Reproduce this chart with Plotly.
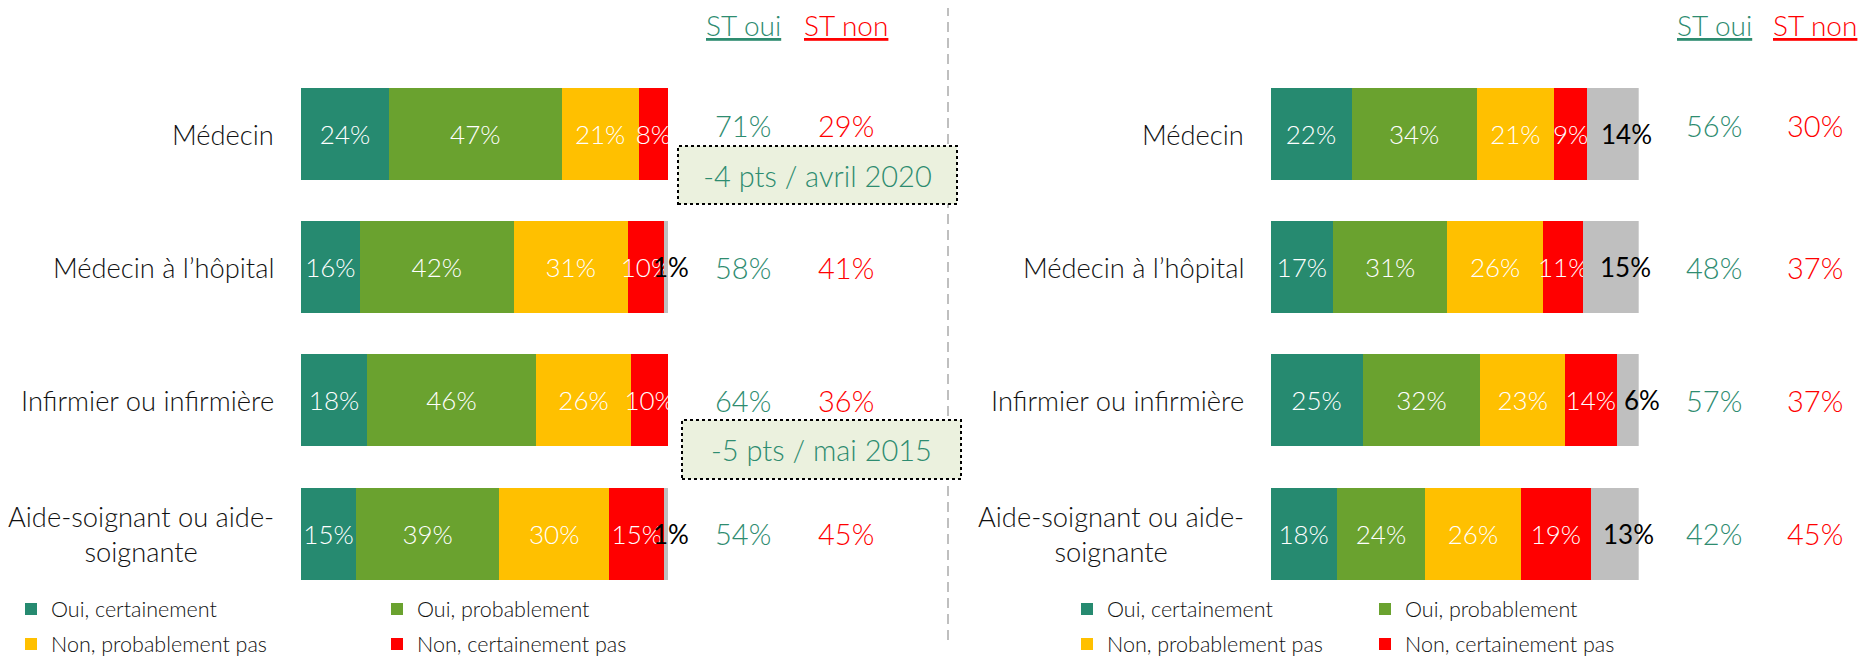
import plotly.graph_objects as go

# ---------------- data ----------------
categories = ["Médecin", "Médecin à l’hôpital", "Infirmier ou infirmière",
              "Aide-soignant ou aide-<br>soignante"]
series_names = ["Oui, certainement", "Oui, probablement",
                "Non, probablement pas", "Non, certainement pas"]

left_oui_cert = [24, 16, 18, 15]
left_oui_prob = [47, 42, 46, 39]
left_non_prob = [21, 31, 26, 30]
left_non_cert = [8, 10, 10, 15]
left_nsp = [0, 1, 0, 1]
left_st_oui = [71, 58, 64, 54]
left_st_non = [29, 41, 36, 45]

right_oui_cert = [22, 17, 25, 18]
right_oui_prob = [34, 31, 32, 24]
right_non_prob = [21, 26, 23, 26]
right_non_cert = [9, 11, 14, 19]
right_nsp = [14, 15, 6, 13]
right_st_oui = [56, 48, 57, 42]
right_st_non = [30, 37, 37, 45]

header_oui = "ST oui"
header_non = "ST non"
callouts = ["-4 pts / avril 2020", "-5 pts / mai 2015"]

# ---------------- styles ----------------
OFF = 8                     # default page (body) margin
W, H = 1870 - OFF, 656 - OFF
FONT = "Lato, 'Open Sans', sans-serif"
WT = 300
TEAL = "#268A70"
GREEN = "#6AA22F"
YELLOW = "#FFC000"
RED = "#FF0000"
GRAY = "#BFBFBF"
TXT_TEAL = "#2E8C70"
colors = [TEAL, GREEN, YELLOW, RED]


def px_x(p):
    return (p - OFF) / W


def px_y(p):
    return 1 - (p - OFF) / H


def fnt(size, color):
    return dict(family=FONT, size=size, color=color, weight=WT)


fig = go.Figure()

sides = [
    dict(xa="x", ya="y", series=[left_oui_cert, left_oui_prob, left_non_prob, left_non_cert],
         nsp=left_nsp, st_oui=left_st_oui, st_non=left_st_non,
         legends=["legend", "legend2", "legend3", "legend4"],
         dom=(301, 668), st_x=(743, 846), nsp_shift=5,
         leg_pos=[(51, 609), (417, 609), (51, 644), (417, 644)]),
    dict(xa="x2", ya="y2", series=[right_oui_cert, right_oui_prob, right_non_prob, right_non_cert],
         nsp=right_nsp, st_oui=right_st_oui, st_non=right_st_non,
         legends=["legend5", "legend6", "legend7", "legend8"],
         dom=(1270.5, 1638.7), st_x=(1714, 1815), nsp_shift=14,
         leg_pos=[(1107, 609), (1405, 609), (1107, 644), (1405, 644)]),
]

annotations = []
layout_legends = {}
row_shift = [9, 0, 0, 0]

for s in sides:
    for name, vals, col, lg in zip(series_names, s["series"], colors, s["legends"]):
        fig.add_trace(go.Bar(
            y=categories, x=vals, orientation="h", name=name,
            marker=dict(color=col, line=dict(width=0)),
            text=[f"{v}%" if v else "" for v in vals],
            textposition="inside", insidetextanchor="middle", textangle=0,
            insidetextfont=fnt(26, "white"),
            constraintext="none",
            xaxis=s["xa"], yaxis=s["ya"], legend=lg, showlegend=True,
            hoverinfo="skip",
        ))
    fig.add_trace(go.Bar(
        y=categories, x=s["nsp"], orientation="h", name="NSP",
        marker=dict(color=GRAY, line=dict(width=0)),
        textposition="none", xaxis=s["xa"], yaxis=s["ya"], showlegend=False,
        hoverinfo="skip",
    ))
    for i, cat in enumerate(categories):
        v = s["nsp"][i]
        if v:
            start = sum(ser[i] for ser in s["series"])
            annotations.append(dict(
                x=start + v / 2, y=cat, xref=s["xa"], yref=s["ya"],
                text=f"{v}%", showarrow=False, xshift=s["nsp_shift"],
                xanchor="center", yanchor="middle",
                font=dict(family=FONT, size=26, color="black")))
        # category labels
        annotations.append(dict(
            x=0, y=cat, xref=s["xa"], yref=s["ya"], text=cat, showarrow=False,
            xanchor="right", yanchor="middle", align="center", xshift=-25,
            font=fnt(27.3, "#111111")))
        # ST values
        annotations.append(dict(
            x=px_x(s["st_x"][0]), y=cat, xref="paper", yref=s["ya"],
            text=f"{s['st_oui'][i]}%", showarrow=False, yshift=row_shift[i],
            xanchor="center", yanchor="middle", font=fnt(29, TXT_TEAL)))
        annotations.append(dict(
            x=px_x(s["st_x"][1]), y=cat, xref="paper", yref=s["ya"],
            text=f"{s['st_non'][i]}%", showarrow=False, yshift=row_shift[i],
            xanchor="center", yanchor="middle", font=fnt(29, RED)))
    # headers
    annotations.append(dict(
        x=px_x(s["st_x"][0]), y=px_y(25), xref="paper", yref="paper",
        text=f"<u>{header_oui}</u>", showarrow=False,
        xanchor="center", yanchor="middle", font=fnt(28, TXT_TEAL)))
    annotations.append(dict(
        x=px_x(s["st_x"][1]), y=px_y(25), xref="paper", yref="paper",
        text=f"<u>{header_non}</u>", showarrow=False,
        xanchor="center", yanchor="middle", font=fnt(28, RED)))
    for lg, (tx, ty) in zip(s["legends"], s["leg_pos"]):
        layout_legends[lg] = dict(
            x=px_x(tx - 40), y=px_y(ty), xanchor="left", yanchor="middle",
            bgcolor="rgba(0,0,0,0)", borderwidth=0,
            font=fnt(21.5, "#111111"))

ydom = [px_y(600.1), px_y(67.6)]
axis_common = dict(showgrid=False, zeroline=False, showline=False,
                   showticklabels=False, ticks="", fixedrange=True)

shapes = [
    dict(type="line", xref="paper", yref="paper", x0=px_x(948), x1=px_x(948),
         y0=px_y(640), y1=1, line=dict(color=GRAY, width=2, dash="10px,6px")),
    dict(type="rect", xref="paper", yref="paper",
         x0=px_x(678), x1=px_x(957), y0=px_y(204), y1=px_y(146),
         fillcolor="#EBF1DE", line=dict(color="black", width=2, dash="dot"),
         label=dict(text=callouts[0], textposition="middle center",
                    font=fnt(29, TXT_TEAL))),
    dict(type="rect", xref="paper", yref="paper",
         x0=px_x(682), x1=px_x(961), y0=px_y(479), y1=px_y(420),
         fillcolor="#EBF1DE", line=dict(color="black", width=2, dash="dot"),
         label=dict(text=callouts[1], textposition="middle center",
                    font=fnt(29, TXT_TEAL))),
]

fig.update_layout(
    width=W, height=H, margin=dict(l=0, r=0, t=0, b=0, autoexpand=False),
    paper_bgcolor="white", plot_bgcolor="white",
    barmode="stack", bargap=0.309,
    font=dict(family=FONT),
    uniformtext=dict(minsize=26, mode="show"),
    xaxis=dict(domain=[px_x(301), px_x(668)], range=[0, 100], anchor="y", **axis_common),
    yaxis=dict(domain=ydom, type="category", categoryorder="array",
               categoryarray=categories, range=[3.5, -0.5], anchor="x", **axis_common),
    xaxis2=dict(domain=[px_x(1270.5), px_x(1638.7)], range=[0, 100], anchor="y2", **axis_common),
    yaxis2=dict(domain=ydom, type="category", categoryorder="array",
                categoryarray=categories, range=[3.5, -0.5], anchor="x2", **axis_common),
    annotations=annotations,
    shapes=shapes,
    showlegend=True,
    **layout_legends,
)

fig.write_html("out.html")
